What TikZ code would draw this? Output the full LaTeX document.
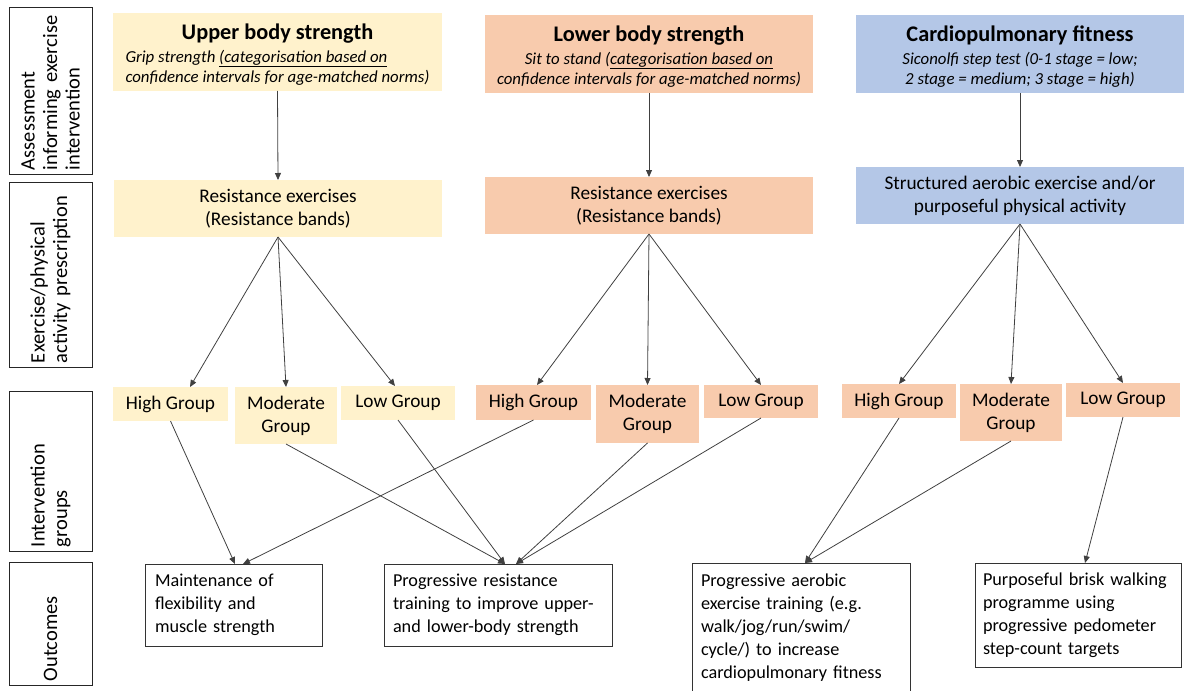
\documentclass[tikz,border=0pt]{standalone}
\usepackage{fontspec}
\setmainfont{Carlito}
\usetikzlibrary{arrows.meta}
\definecolor{yel}{HTML}{FFF2CC}
\definecolor{peach}{HTML}{F8CBAD}
\definecolor{bluec}{HTML}{B4C7E7}
\newcommand{\ttlfont}{\fontsize{22.3}{24}\selectfont\bfseries\rule{0pt}{23.5pt}}
\newcommand{\subfont}{\fontsize{16.8}{20}\selectfont\itshape}
\begin{document}
\begin{tikzpicture}[x=1pt,y=-1pt,
  box/.style={inner sep=0pt, outer sep=0pt, align=center},
  toprow/.style={box},
  midrow/.style={box, font=\fontsize{19.3}{23}\selectfont},
  grp/.style={box, font=\fontsize{19.3}{23}\selectfont},
  outbox/.style={box, draw=black!80, line width=1pt, fill=white, align=left, font=\fontsize{18.2}{23}\selectfont},
  sidebox/.style={draw=black!85, line width=1pt, rotate=90, inner sep=0pt, outer sep=0pt, align=left, font=\fontsize{20.5}{22.5}\selectfont},
  arr/.style={draw=black!75, line width=0.8pt, -{Triangle[length=7pt,width=6pt]}}]
\useasboundingbox (0,0) rectangle (1190,690);
\clip (0,0) rectangle (1190,690);

% side labels
\node[sidebox, minimum width=166pt, minimum height=83pt, text width=158pt] (sA) at (50.5,91) {Assessment\\informing exercise\\intervention};
\node[sidebox, minimum width=185pt, minimum height=83pt, text width=177pt] (sB) at (50.5,274.5) {Exercise/physical\\activity prescription};
\node[sidebox, minimum width=160pt, minimum height=83pt, text width=152pt] (sC) at (50.5,471) {Intervention\\groups};
\node[sidebox, minimum width=123pt, minimum height=83pt, text width=115pt] (sD) at (50.5,623.5) {Outcomes};

% row 1
\node[toprow, fill=yel, minimum width=329pt, minimum height=78pt] (U1) at (277.5,52)
  {{\ttlfont Upper body strength}\\[4pt]
   {\subfont\begin{tabular}{@{}l@{}}Grip strength \underline{(categorisation based on}\\confidence intervals for age-matched norms)\end{tabular}}};
\node[toprow, fill=peach, minimum width=328pt, minimum height=78pt] (L1) at (649,54)
  {{\ttlfont Lower body strength}\\[4pt]
   {\subfont\begin{tabular}{@{}c@{}}Sit to stand (\underline{categorisation based on}\\confidence intervals for age-matched norms)\end{tabular}}};
\node[toprow, fill=bluec, minimum width=328pt, minimum height=78pt] (C1) at (1020,54)
  {{\ttlfont Cardiopulmonary fitness}\\[4pt]
   {\subfont\begin{tabular}{@{}c@{}}Siconolfi step test (0-1 stage = low;\\2 stage = medium; 3 stage = high)\end{tabular}}};

% row 2
\node[midrow, fill=yel, minimum width=328pt, minimum height=57pt] (U2) at (278,208.5) {Resistance exercises\\(Resistance bands)};
\node[midrow, fill=peach, minimum width=328pt, minimum height=57pt] (L2) at (649,205.5) {Resistance exercises\\(Resistance bands)};
\node[midrow, fill=bluec, minimum width=328pt, minimum height=57pt] (C2) at (1020,195.5) {Structured aerobic exercise and/or\\purposeful physical activity};

% row 3
\node[grp, fill=yel, minimum width=115pt, minimum height=34pt] (UH) at (170.5,404) {High Group};
\node[grp, fill=yel, minimum width=102pt, minimum height=57pt] (UM) at (286,415.5) {Moderate\\Group};
\node[grp, fill=yel, minimum width=114pt, minimum height=34pt] (UL) at (398,403) {Low Group};
\node[grp, fill=peach, minimum width=115pt, minimum height=35pt] (LH) at (533.5,402.5) {High Group};
\node[grp, fill=peach, minimum width=103pt, minimum height=58pt] (LM) at (647.5,414) {Moderate\\Group};
\node[grp, fill=peach, minimum width=114pt, minimum height=33pt] (LL) at (761,401.5) {Low Group};
\node[grp, fill=peach, minimum width=114pt, minimum height=34pt] (CH) at (899,401) {High Group};
\node[grp, fill=peach, minimum width=102pt, minimum height=57pt] (CM) at (1011,412.5) {Moderate\\Group};
\node[grp, fill=peach, minimum width=114pt, minimum height=34pt] (CL) at (1123,400) {Low Group};

% row 4
\node[outbox, minimum width=177pt, minimum height=82pt, text width=157pt] (O1) at (233.5,605) {Maintenance of\\flexibility and\\muscle strength};
\node[outbox, minimum width=228pt, minimum height=82pt, text width=210pt] (O2) at (498,605) {Progressive resistance\\training to improve upper-\\and lower-body strength};
\node[outbox, minimum width=218pt, minimum height=130pt, text width=200pt] (O3) at (801,628) {Progressive aerobic\\exercise training (e.g.\\walk/jog/run/swim/\\cycle/) to increase\\cardiopulmonary fitness};
\node[outbox, minimum width=206pt, minimum height=104pt, text width=190pt] (O4) at (1078,615) {Purposeful brisk walking\\programme using\\progressive pedometer\\step-count targets};

% connectors row1 -> row2
\draw[arr] (U1.south) -- (U2.north);
\draw[arr] (L1.south) -- (L2.north);
\draw[arr] (C1.south) -- (C2.north);

% connectors row2 -> groups
\draw[arr] (U2.south) -- ([xshift=19.5pt]UH.north);
\draw[arr] (U2.south) -- (UM.north);
\draw[arr] (U2.south) -- ([xshift=-3pt]UL.north);
\draw[arr] (L2.south) -- ([xshift=3.5pt]LH.north);
\draw[arr] (L2.south) -- (LM.north);
\draw[arr] (L2.south) -- (LL.north);
\draw[arr] (C2.south) -- (CH.north);
\draw[arr] (C2.south) -- (CM.north);
\draw[arr] (C2.south) -- (CL.north);

% connectors groups -> outcomes
\draw[arr] (UH.south) -- ([xshift=1.5pt]O1.north);
\draw[arr] (LH.south) -- ([xshift=9.5pt]O1.north);
\draw[arr] (UM.south) -- ([xshift=7pt]O2.north);
\draw[arr] (UL.south) -- ([xshift=7pt]O2.north);
\draw[arr] (LM.south) -- ([xshift=18pt]O2.north);
\draw[arr] (LL.south) -- ([xshift=18pt]O2.north);
\draw[arr] (CH.south) -- ([xshift=4pt]O3.north);
\draw[arr] (CM.south) -- ([xshift=4pt]O3.north);
\draw[arr] (CL.south) -- ([xshift=7pt]O4.north);
\end{tikzpicture}
\end{document}
